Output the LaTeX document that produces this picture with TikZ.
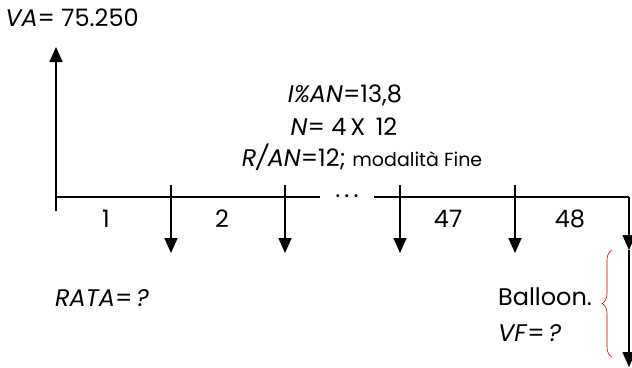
\documentclass[tikz,border=0pt]{standalone}
\usepackage{fontspec}
\setmainfont{Poppins}
\usetikzlibrary{arrows.meta,decorations.pathreplacing}
\begin{document}
\begin{tikzpicture}[x=1pt, y=-1pt, font=\fontsize{24}{28}\selectfont,
  line width=1.6pt, >={Triangle[width=13pt,length=15pt]}]
\useasboundingbox (0,0) rectangle (632,367);
% present value and time line
\node (va) at (72,18) {\textit{VA}= 75.250};
\coordinate (start) at (56,197);
\coordinate (top) at (56,47);
\coordinate (foot) at (56,211);
\coordinate (gapl) at (320,197);
\coordinate (gapr) at (374,197);
\coordinate (end) at (629,197);
\draw[->] (start) -- (top);
\draw (foot) -- (start) -- (gapl);
\draw (gapr) -- (end);
\node (dots) at (347,196) {.\,.\,.};
% payments
\coordinate (p1) at (171,185); \coordinate (q1) at (171,253);
\coordinate (p2) at (285,185); \coordinate (q2) at (285,253);
\coordinate (p47) at (400,185); \coordinate (q47) at (400,253);
\coordinate (p48) at (515,185); \coordinate (q48) at (515,253);
\draw[->] (p1) -- (q1);
\draw[->] (p2) -- (q2);
\draw[->] (p47) -- (q47);
\draw[->] (p48) -- (q48);
\coordinate (last) at (629,250);
\coordinate (bottom) at (629,367);
\draw[->] (end) -- (last);
\draw[->] (last) -- (bottom);
% periods
\node (n1) at (106,219) {1};
\node (n2) at (222,219) {2};
\node (n47) at (448,219) {47};
\node (n48) at (570,219) {48};
% data
\node (rate) at (345,95) {\textit{I\%AN}=13,8};
\node (num) at (344,127) {\textit{N}= 4\,X\, 12};
\node (mode) at (362,157) {\textit{R/AN}=12; \fontsize{19}{22}\selectfont modalità Fine};
\node (rata) at (102,298) {\textit{RATA}=\,\textit{?}};
\node[anchor=west] (ball) at (494,297) {Balloon.};
\node[anchor=west] (vf) at (494,333) {\textit{VF}=\,\textit{?}};
\coordinate (bt) at (612,250);
\coordinate (bb) at (612,357);
\draw[red!75!black, line width=0.6pt, decorate,
  decoration={brace, amplitude=10pt}] (bb) -- (bt);
\end{tikzpicture}
\end{document}
